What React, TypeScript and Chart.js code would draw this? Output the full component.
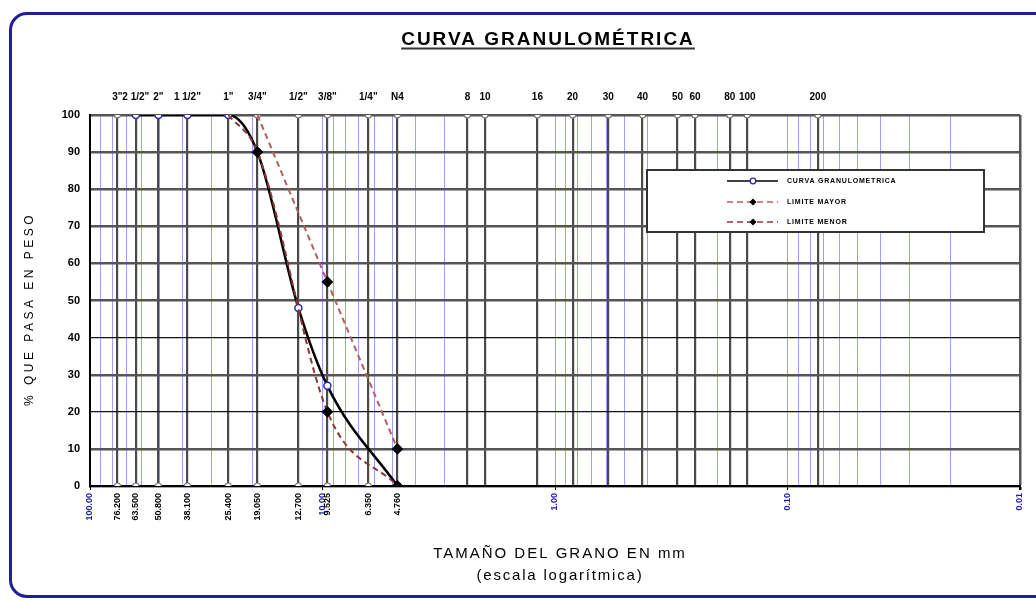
import React, { useEffect, useRef } from "react";
import { Chart, registerables } from "chart.js";

Chart.register(...registerables);

// ---------- DATA ----------
const sieveNames = ['3"', '2 1/2"', '2"', '1 1/2"', '1"', '3/4"', '1/2"', '3/8"', '1/4"', 'N4', '8', '10', '16', '20', '30', '40', '50', '60', '80', '100', '200'];
const sieveSizes = [76.2, 63.5, 50.8, 38.1, 25.4, 19.05, 12.7, 9.525, 6.35, 4.76, 2.38, 2.0, 1.19, 0.84, 0.59, 0.42, 0.297, 0.25, 0.177, 0.149, 0.074];
const gravelSieveCount = 10;
const decadeTicks = [100, 10, 1, 0.1, 0.01];
const minorMultipliers = [2, 3, 4, 5, 6, 7, 8, 9];

const curveSizes = [63.5, 50.8, 38.1, 25.4, 19.05, 12.7, 9.525, 4.76];
const curvePassing = [100, 100, 100, 100, 90, 48, 27, 0];
const upperSizes = [19.05, 9.525, 4.76];
const upperPassing = [100, 55, 10];
const lowerSizes = [25.4, 19.05, 9.525, 4.76];
const lowerPassing = [100, 90, 20, 0];

const TITLE = "CURVA GRANULOMÉTRICA";
const Y_TITLE = "% QUE PASA EN PESO";
const X_TITLE_1 = "TAMAÑO DEL GRANO EN mm";
const X_TITLE_2 = "(escala logarítmica)";

const FONT = '"Liberation Sans", Arial, sans-serif';

const near = (a: number, b: number) => Math.abs(a / b - 1) < 1e-6;
const isDecade = (v: number) => decadeTicks.some((d) => near(v, d));
const isSieve = (v: number) => sieveSizes.some((s) => near(v, s));
const isGravelSieve = (v: number) => sieveSizes.slice(0, gravelSieveCount).some((s) => near(v, s));

const bottomTickValues = (): number[] => {
  const vals: number[] = [...decadeTicks];
  decadeTicks.slice(1).forEach((d) => minorMultipliers.forEach((m) => vals.push(m * d)));
  sieveSizes.slice(0, gravelSieveCount).forEach((s) => vals.push(s));
  return vals.sort((a, b) => b - a);
};

const decorPlugin = {
  id: "decor",
  afterDraw(chart: any) {
    const ctx: any = chart.ctx;
    ctx.save();
    // Title
    ctx.fillStyle = "#000";
    ctx.font = `bold 19px ${FONT}`;
    ctx.letterSpacing = "2px";
    ctx.textAlign = "center";
    ctx.textBaseline = "alphabetic";
    const tcx = 548;
    ctx.fillText(TITLE, tcx, 45);
    const tw = ctx.measureText(TITLE).width;
    ctx.fillStyle = "#333";
    ctx.fillRect(tcx - tw / 2, 47.5, tw, 2);

    // Y title
    ctx.fillStyle = "#000";
    ctx.font = `12px ${FONT}`;
    ctx.letterSpacing = "3.5px";
    ctx.save();
    ctx.translate(33, 309);
    ctx.rotate(-Math.PI / 2);
    ctx.textAlign = "center";
    ctx.fillText(Y_TITLE, 0, 0);
    ctx.restore();

    // X title
    ctx.font = `15px ${FONT}`;
    ctx.letterSpacing = "2px";
    ctx.textAlign = "center";
    ctx.fillText(X_TITLE_1, 560, 558);
    ctx.letterSpacing = "1.8px";
    ctx.fillText(X_TITLE_2, 560, 580);

    // Legend box
    const bx = 647, by = 170, bw = 337, bh = 62;
    ctx.letterSpacing = "0px";
    ctx.fillStyle = "#fff";
    ctx.fillRect(bx, by, bw, bh);
    ctx.strokeStyle = "#333";
    ctx.lineWidth = 2;
    ctx.strokeRect(bx, by, bw, bh);
    const rows = [181, 202, 222];
    chart.data.datasets.slice(0, 3).forEach((ds: any, i: number) => {
      const y = rows[i];
      ctx.save();
      ctx.strokeStyle = ds.borderColor;
      ctx.lineWidth = 1.6;
      ctx.setLineDash(ds.borderDash || []);
      ctx.beginPath();
      ctx.moveTo(727, y);
      ctx.lineTo(778, y);
      ctx.stroke();
      ctx.setLineDash([]);
      const mx = 753;
      if (ds.pointStyle === "rectRot") {
        ctx.fillStyle = "#000";
        ctx.beginPath();
        ctx.moveTo(mx, y - 3.5);
        ctx.lineTo(mx + 3.5, y);
        ctx.lineTo(mx, y + 3.5);
        ctx.lineTo(mx - 3.5, y);
        ctx.closePath();
        ctx.fill();
      } else {
        ctx.fillStyle = "#fff";
        ctx.strokeStyle = ds.pointBorderColor;
        ctx.lineWidth = 1.3;
        ctx.beginPath();
        ctx.arc(mx, y, 2.8, 0, Math.PI * 2);
        ctx.fill();
        ctx.stroke();
      }
      ctx.fillStyle = "#000";
      ctx.font = `bold 7px ${FONT}`;
      ctx.letterSpacing = "0.8px";
      ctx.textAlign = "left";
      ctx.textBaseline = "middle";
      ctx.fillText(ds.label, 787, y);
      ctx.restore();
    });
    ctx.restore();
  },
};

export default function App() {
  const ref = useRef<HTMLCanvasElement | null>(null);

  useEffect(() => {
    if (!ref.current) return;
    const markers = [
      ...sieveSizes.map((s) => ({ x: s, y: 100 })),
      ...sieveSizes.slice(0, gravelSieveCount).map((s) => ({ x: s, y: 0 })),
    ];
    const hideTop = (c: any) => (c.raw && c.raw.y >= 100 ? 0 : 4.5);
    const chart = new Chart(ref.current, {
      type: "line",
      data: {
        datasets: [
          {
            label: "CURVA GRANULOMETRICA",
            data: curveSizes.map((x, i) => ({ x, y: curvePassing[i] })),
            borderColor: "#000",
            borderWidth: 2.5,
            cubicInterpolationMode: "monotone",
            pointStyle: "circle",
            pointRadius: 3.5,
            pointBackgroundColor: "#fff",
            pointBorderColor: "#2b2ba8",
            pointBorderWidth: 1.5,
            order: 3,
          } as any,
          {
            label: "LIMITE MAYOR",
            data: upperSizes.map((x, i) => ({ x, y: upperPassing[i] })),
            borderColor: "#ad625c",
            borderDash: [6, 4],
            borderWidth: 2,
            cubicInterpolationMode: "monotone",
            pointStyle: "rectRot",
            pointRadius: hideTop,
            pointBackgroundColor: "#000",
            pointBorderColor: "#000",
            order: 1,
          },
          {
            label: "LIMITE MENOR",
            data: lowerSizes.map((x, i) => ({ x, y: lowerPassing[i] })),
            borderColor: "#8e3636",
            borderDash: [6, 4],
            borderWidth: 2,
            cubicInterpolationMode: "monotone",
            pointStyle: "rectRot",
            pointRadius: hideTop,
            pointBackgroundColor: "#000",
            pointBorderColor: "#000",
            order: 2,
          },
          {
            label: "tamices",
            data: markers,
            showLine: false,
            pointRadius: 3,
            pointBackgroundColor: "#fff",
            pointBorderColor: "#777",
            pointBorderWidth: 1.2,
            order: 10,
          },
        ],
      },
      options: {
        responsive: false,
        animation: false,
        devicePixelRatio: 1,
        layout: { padding: { left: 20, right: 16, top: 50, bottom: 60 } },
        plugins: {
          legend: { display: false },
          title: { display: false },
          tooltip: { enabled: false },
        },
        scales: {
          x: {
            type: "logarithmic",
            position: "bottom",
            reverse: true,
            min: 0.01,
            max: 100,
            afterBuildTicks: (s: any) => {
              s.ticks = bottomTickValues().map((v) => ({ value: v }));
            },
            afterFit: (s: any) => {
              s.height = 55;
              s.paddingLeft = 0;
              s.paddingRight = 0;
            },
            border: { display: true, color: "#000", width: 2 },
            grid: {
              drawTicks: true,
              tickLength: 4,
              color: (c: any) => {
                const v = c.tick ? c.tick.value : null;
                if (v == null) return "transparent";
                if (near(v, 0.01)) return "#555";
                if (near(v, 100) || isSieve(v)) return "transparent";
                return "rgba(95,95,255,0.6)";
              },
              lineWidth: (c: any) => (c.tick && near(c.tick.value, 0.01) ? 2.5 : 1),
              tickColor: (c: any) => (c.tick && isDecade(c.tick.value) ? "#000" : "transparent"),
            } as any,
            ticks: {
              autoSkip: false,
              minRotation: 90,
              maxRotation: 90,
              padding: 3,
              font: { family: FONT, size: 9, weight: "bold" },
              color: (c: any) => (c.tick && isDecade(c.tick.value) ? "#1c1ca8" : "#000"),
              callback: (v: any) => {
                const n = Number(v);
                if (isDecade(n)) return n.toFixed(2);
                if (isGravelSieve(n)) return n.toFixed(3);
                return "";
              },
            },
          } as any,
          xTop: {
            type: "logarithmic",
            position: "top",
            reverse: true,
            min: 0.01,
            max: 100,
            afterBuildTicks: (s: any) => {
              s.ticks = sieveSizes.map((v) => ({ value: v }));
            },
            afterFit: (s: any) => {
              s.height = 65;
              s.paddingLeft = 0;
              s.paddingRight = 0;
            },
            border: { display: false },
            grid: { drawTicks: false, color: "#4a4a4a", lineWidth: 2.2 },
            ticks: {
              autoSkip: false,
              minRotation: 0,
              maxRotation: 0,
              padding: 12,
              font: { family: FONT, size: 10, weight: "bold" },
              color: "#000",
              callback: (_v: any, i: number) => sieveNames[i],
            },
          } as any,
          y: {
            min: 0,
            max: 100,
            afterFit: (s: any) => {
              s.width = 70;
              s.paddingTop = 0;
              s.paddingBottom = 0;
            },
            border: { display: true, color: "#000", width: 2 },
            grid: {
              drawTicks: false,
              color: (c: any) => (c.tick && (c.tick.value === 40 || c.tick.value === 20) ? "#111" : "#555"),
              lineWidth: (c: any) => (c.tick && (c.tick.value === 40 || c.tick.value === 20) ? 1.3 : 2.4),
            } as any,
            ticks: {
              stepSize: 10,
              padding: 10,
              font: { family: FONT, size: 11, weight: "bold" },
              color: "#000",
            },
          },
        },
      } as any,
      plugins: [decorPlugin],
    });
    return () => chart.destroy();
  }, []);

  return (
    <div
      style={{
        position: "absolute",
        left: 0,
        top: 0,
        width: 1036,
        height: 601,
        overflow: "hidden",
        background: "#fff",
      }}
    >
      <div
        style={{
          position: "absolute",
          left: 9,
          top: 12,
          width: 1100,
          height: 580,
          border: "3px solid #1f1f99",
          borderRadius: 18,
        }}
      />
      <canvas
        ref={ref}
        width={1036}
        height={601}
        style={{ position: "absolute", left: 0, top: 0, width: 1036, height: 601 }}
      />
    </div>
  );
}
